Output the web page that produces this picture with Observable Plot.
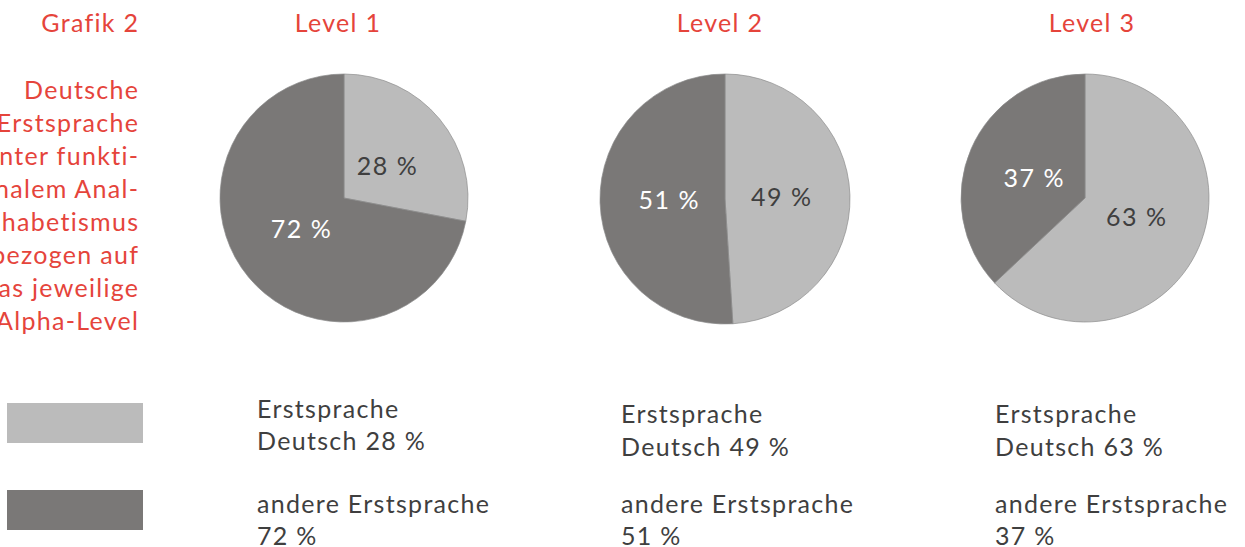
<!DOCTYPE html>
<html>
<head>
<meta charset="utf-8">
<script src="https://cdn.jsdelivr.net/npm/d3@7"></script>
<script src="https://cdn.jsdelivr.net/npm/@observablehq/plot@0.6"></script>
<style>
  html, body { margin: 0; padding: 0; background: #ffffff; }
  body { width: 1245px; height: 547px; overflow: hidden; position: relative; font-family: Lato, "Noto Sans", sans-serif; }
  .abs { position: absolute; white-space: pre; letter-spacing: 1.3px; }
  .red { color: #e5443b; font-size: 25px; line-height: 33px; }
  .leg { color: #3f3f3f; font-size: 25px; line-height: 20px; }
  .sw { position: absolute; left: 7px; width: 136px; height: 40px; }
  .pie { position: absolute; }
</style>
</head>
<body>
<script>
// ---- data ----
const levels = ["Level 1", "Level 2", "Level 3"];
const deutsch = [28, 49, 63];          // Erstsprache Deutsch, %
const andere = [72, 51, 37];           // andere Erstsprache, %
const categories = ["Erstsprache Deutsch", "andere Erstsprache"];
const figureTitle = "Grafik 2";
const description = ["Deutsche", "Erstsprache", "unter funkti-", "nalem Anal-", "phabetismus", "bezogen auf", "das jeweilige", "Alpha-Level"];

// ---- styles / layout ----
const colors = {"Erstsprache Deutsch": "#bbbbbb", "andere Erstsprache": "#7a7877"};
const labelColors = {"Erstsprache Deutsch": "#3f3f3f", "andere Erstsprache": "#ffffff"};
const pieLayout = [
  {cx: 344, cy: 198, r: 124, titleX: 338, legX: 257, legY: [408, 440, 503, 535]},
  {cx: 725, cy: 199, r: 125, titleX: 720, legX: 621, legY: [413, 446, 503, 535]},
  {cx: 1085, cy: 198, r: 124, titleX: 1092, legX: 995, legY: [413, 446, 503, 535]}
];

function addDiv(cls, style, text) {
  const d = document.createElement("div");
  d.className = cls;
  Object.assign(d.style, style);
  d.textContent = text;
  document.body.appendChild(d);
  return d;
}

// left column
const rightEdge = 1245 - 138 - 1.3;
addDiv("abs red", {right: rightEdge + "px", top: "5.5px", textAlign: "right"}, figureTitle);
addDiv("abs red", {right: rightEdge + "px", top: "72.5px", textAlign: "right"}, description.join("\n"));

// legend swatches
addDiv("sw", {top: "403px", background: colors[categories[0]]}, "");
addDiv("sw", {top: "490px", background: colors[categories[1]]}, "");

levels.forEach((lvl, i) => {
  const L = pieLayout[i];
  addDiv("abs red", {left: (L.titleX - 100) + "px", width: "200px", top: "5.5px", textAlign: "center"}, lvl);

  const legLines = ["Erstsprache", "Deutsch " + deutsch[i] + " %", "andere Erstsprache", andere[i] + " %"];
  legLines.forEach((t, k) => {
    addDiv("abs leg", {left: L.legX + "px", top: (L.legY[k] - 10) + "px"}, t);
  });

  // pie data
  const rows = [
    {cat: categories[0], value: deutsch[i]},
    {cat: categories[1], value: andere[i]}
  ];
  const arcs = d3.pie().value(d => d.value).sort(null)(rows);
  const labels = arcs.map(a => {
    const mid = (a.startAngle + a.endAngle) / 2;
    return {
      text: a.data.value + " %",
      cat: a.data.cat,
      lx: 0.45 * Math.sin(mid),
      ly: 0.40 * Math.cos(mid)
    };
  });

  const m = 6;
  const size = 2 * L.r + 2 * m;
  const pieMark = (index, scales) => {
    const x = scales.x, y = scales.y;
    const cx = x(0), cy = y(0), rad = x(1) - x(0);
    const g = d3.create("svg:g").attr("transform", `translate(${cx},${cy})`);
    const arc = d3.arc().innerRadius(0).outerRadius(rad);
    g.selectAll("path").data(arcs).join("path")
      .attr("d", arc)
      .attr("fill", d => colors[d.data.cat])
      .attr("stroke", "#8c8c8c")
      .attr("stroke-width", 0.7);
    return g.node();
  };

  const chart = Plot.plot({
    width: size,
    height: size,
    margin: m,
    x: {domain: [-1, 1], axis: null},
    y: {domain: [-1, 1], axis: null},
    style: {background: "transparent", overflow: "visible"},
    marks: [
      pieMark,
      Plot.text(labels, {
        x: "lx", y: "ly", text: "text",
        fill: d => labelColors[d.cat],
        fontSize: 25,
        fontFamily: "Lato, 'Noto Sans', sans-serif"
      })
    ]
  });
  chart.querySelectorAll("text").forEach(t => t.setAttribute("letter-spacing", "1.5"));
  const wrap = document.createElement("div");
  wrap.className = "pie";
  wrap.style.left = (L.cx - L.r - m) + "px";
  wrap.style.top = (L.cy - L.r - m) + "px";
  wrap.appendChild(chart);
  document.body.appendChild(wrap);
});
</script>
</body>
</html>
